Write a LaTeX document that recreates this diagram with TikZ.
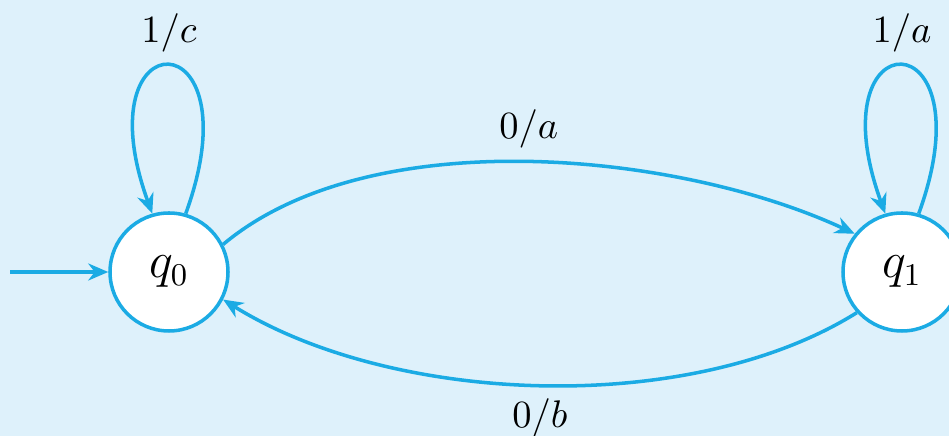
\documentclass[tikz,border=0pt]{standalone}
\definecolor{FsmBlue}{HTML}{1BABE4}
\definecolor{FsmBg}{HTML}{DEF1FB}
\usepackage{tikz}
\usetikzlibrary{positioning,arrows.meta}

\begin{document}
\begin{tikzpicture}[
      st/.style={circle, draw=FsmBlue, fill=white, line width=1pt,
        minimum size=1.18cm, inner sep=0pt, font=\fontsize{13.5}{15}\selectfont},
      tr/.style={-{Stealth[length=2mm,width=1.7mm]}, line width=1pt, FsmBlue},
      lab/.style={font=\fontsize{11}{13}\selectfont, text=black}]
      \fill[FsmBg] (0,0) rectangle (9.49,4.36);
      \useasboundingbox (0,0) rectangle (9.49,4.36);
      \node[st] (q0) at (1.69,1.64) {$q_0$};
      \node[st] (q1) at (9.02,1.64) {$q_1$};
      \coordinate (start) at (0.1,1.64);
      \draw[tr] (start) -- (q0);
      \draw[tr] (q0.74) .. controls +(70:2.1) and +(110:2.1) .. node[lab, above] {$1/c$} (q0.106);
      \draw[tr] (q1.74) .. controls +(70:2.1) and +(110:2.1) .. node[lab, above] {$1/a$} (q1.106);
      \draw[tr] (q0.27) to[out=40, in=155, looseness=0.78] node[lab, above] {$0/a$} (q1.141);
      \draw[tr] (q1.222) to[out=212, in=-32, looseness=0.8] node[lab, below] {$0/b$} (q0.333);
    \end{tikzpicture}
\end{document}
